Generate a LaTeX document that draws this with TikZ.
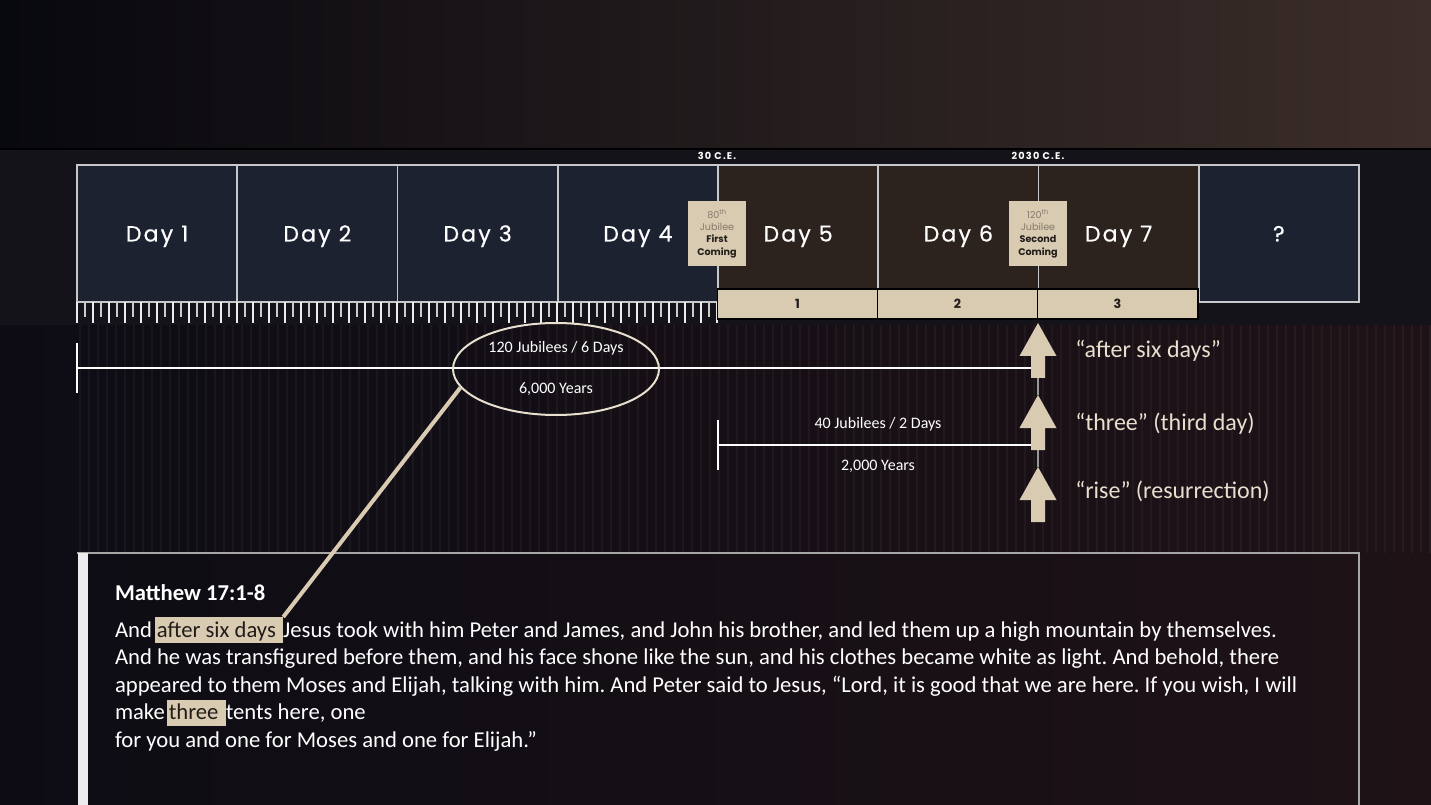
\documentclass[tikz,border=0pt]{standalone}
\usepackage{fontspec}
\setmainfont{Carlito}
\newfontfamily\dayfont[LetterSpace=10, FakeBold=0.6]{Poppins}
\newfontfamily\tagfont{Poppins}
\newfontfamily\erafont[LetterSpace=12]{Poppins}
\usetikzlibrary{positioning,shapes.geometric}
\definecolor{sand}{HTML}{D8CBB2}
\definecolor{navy}{HTML}{1D2231}
\definecolor{umber}{HTML}{2C221E}
\definecolor{frame}{HTML}{C8C8CA}
\definecolor{ink}{HTML}{221D19}
\definecolor{faded}{HTML}{857B6C}
\definecolor{cream}{HTML}{E8DFCF}
\definecolor{band}{HTML}{141319}
\definecolor{skyL}{HTML}{08080F}
\definecolor{skyM}{HTML}{141118}
\definecolor{skyR}{HTML}{3B2D29}
\definecolor{floorL}{HTML}{0D0C14}
\definecolor{floorR}{HTML}{1E1216}
\tikzset{
  uparrow/.pic={
    \fill[sand] (0,0) -- (18.5,33) -- (7,33) -- (7,55) -- (-7,55) -- (-7,33) -- (-18.5,33) -- cycle;
    \coordinate (-tip) at (0,0);
    \coordinate (-tail) at (0,55);
    \coordinate (-west) at (-7,40);
  }
}
\frenchspacing
\begin{document}
\begin{tikzpicture}[x=0.75pt,y=-0.75pt,
  daycell/.style={draw=frame, line width=1.4pt, minimum width=120.2pt, minimum height=102.75pt,
    inner sep=0pt, text=white, text height=12pt, text depth=0pt, font=\dayfont\fontsize{16.5}{18}\selectfont},
  badge/.style={fill=sand, minimum width=43.5pt, minimum height=48.75pt, inner sep=0pt, align=center,
    font=\tagfont\fontsize{7.2}{9.3}\selectfont, text=ink},
  segment/.style={fill=sand, draw=black, line width=1.3pt, minimum width=120.2pt, minimum height=23pt,
    inner sep=0pt, font=\tagfont\bfseries\fontsize{9.5}{10}\selectfont, text=ink},
  era/.style={text=white, font=\erafont\bfseries\fontsize{7.3}{8}\selectfont, inner sep=0pt},
  spanline/.style={draw=white, line width=2.2pt},
  tally/.style={text=white, font=\fontsize{12}{14}\selectfont, inner sep=0pt},
  cue/.style={text=cream, font=\fontsize{18}{20}\selectfont, anchor=west, inner sep=0pt},
  body/.style={text=white, font=\fontsize{17}{20}\selectfont, inner sep=0pt, outer sep=0pt},
  hilite/.style={body, fill=sand, text=ink, inner xsep=1.5pt, inner ysep=0pt, text height=15pt, text depth=4.5pt}]
\useasboundingbox (0,0) rectangle (1431,805);
% background
\shade[left color=skyL, middle color=skyM, right color=skyR] (0,0) rectangle (1431,150);
\shade[left color=floorL, right color=floorR] (0,150) rectangle (1431,805);
\fill[band] (0,150) rectangle (1431,325);
\draw[black, line width=2pt] (0,149) -- (1431,149);
\foreach \x in {80,89,...,1430}
  \draw[white, opacity=0.04, line width=0.8pt] (\x,325) -- (\x,553);

% the days
\foreach \i/\lbl/\col in {1/Day 1/navy, 2/Day 2/navy, 3/Day 3/navy, 4/Day 4/navy,
                          5/Day 5/umber, 6/Day 6/umber, 7/Day 7/umber, 8/?/navy}
  \node[daycell, fill=\col] (day\i) at ({77+160.25*(\i-1)+80.125},233.5) {\lbl};

% ruler
\draw[frame, line width=1.2pt] (77,302) -- (717,302);
\foreach \x in {77,93,...,717}
  \draw[white!85!gray, line width=1.2pt] (\x,302) -- (\x,323);
\foreach \x in {85,101,...,709}
  \draw[white!60!gray, line width=1pt] (\x,302) -- (\x,317);

% thirds
\node[segment] (seg1) at (797.5,304) {1};
\node[segment] (seg2) at (957.5,304) {2};
\node[segment] (seg3) at (1117.5,304) {3};

% era labels and badges
\node[era] (ce30) at (717,156) {30 C.E.};
\node[era] (ce2030) at (1038,156) {2030 C.E.};
\node[badge] (first) at (717,233.5) {{\color{faded}80\textsuperscript{th}}\\{\color{faded}Jubilee}\\\textbf{First}\\\textbf{Coming}};
\node[badge] (second) at (1038,233.5) {{\color{faded}120\textsuperscript{th}}\\{\color{faded}Jubilee}\\\textbf{Second}\\\textbf{Coming}};

% arrows
\pic (up1) at (1038,323) {uparrow};
\pic (up2) at (1038,395) {uparrow};
\pic (up3) at (1038,467) {uparrow};
\draw[gray!80, line width=1.5pt] (up1-tail) -- (up2-tip);
\draw[gray!80, line width=1.5pt] (up2-tail) -- (up3-tip);
\node[cue] (cue1) at (1075,351) {“after six days”};
\node[cue] (cue2) at (1075,424) {“three” (third day)};
\node[cue] (cue3) at (1075,491) {“rise” (resurrection)};

% spans
\coordinate (six) at (77,368);
\draw[spanline] ([yshift=25*0.75pt]six) -- ([yshift=-25*0.75pt]six);
\draw[spanline] (six) -- (six -| up1-west);
\node[draw=cream, line width=1.5pt, ellipse, minimum width=154.5pt, minimum height=69pt] (ring) at (556,369) {};
\node[tally] (six1) at (556,348) {120 Jubilees / 6 Days};
\node[tally] (six2) at (556,389) {6,000 Years};
\coordinate (two) at (718,445);
\draw[spanline] ([yshift=25*0.75pt]two) -- ([yshift=-25*0.75pt]two);
\draw[spanline] (two) -- (two -| up2-west);
\node[tally] (two1) at (878,424) {40 Jubilees / 2 Days};
\node[tally] (two2) at (878,466) {2,000 Years};

% passage
\draw[gray!70, line width=1pt] (77,553) -- (1359,553) -- (1359,805);
\fill[white!85!gray] (78,553) rectangle (88,805);
\node[body, anchor=base west, font=\bfseries\fontsize{17}{20}\selectfont] (title) at (115,600) {Matthew 17:1-8};
\node[body, anchor=base west] (l1a) at (115,637) {And};
\node[hilite, base right=2.2pt of l1a] (hl1) {after six days\kern4pt};
\node[body, base right=0pt of hl1] (l1b) {Jesus took with him Peter and James, and John his brother, and led them up a high mountain by themselves.};
\node[body, anchor=base west] (l2) at (115,664.5) {And he was transfigured before them, and his face shone like the sun, and his clothes became white as light. And behold, there};
\node[body, anchor=base west] (l3) at (115,692) {appeared to them Moses and Elijah, talking with him. And Peter said to Jesus, “Lord, it is good that we are here. If you wish, I will};
\node[body, anchor=base west] (l4a) at (115,719.5) {make};
\node[hilite, base right=1.5pt of l4a] (hl2) {three\kern4pt};
\node[body, base right=0pt of hl2] (l4b) {tents here, one};
\node[body, anchor=base west] (l5) at (115,747) {for you and one for Moses and one for Elijah.”};

% pointer
\draw[sand, line width=3pt] (ring.191) -- (hl1.north east);
\end{tikzpicture}
\end{document}
